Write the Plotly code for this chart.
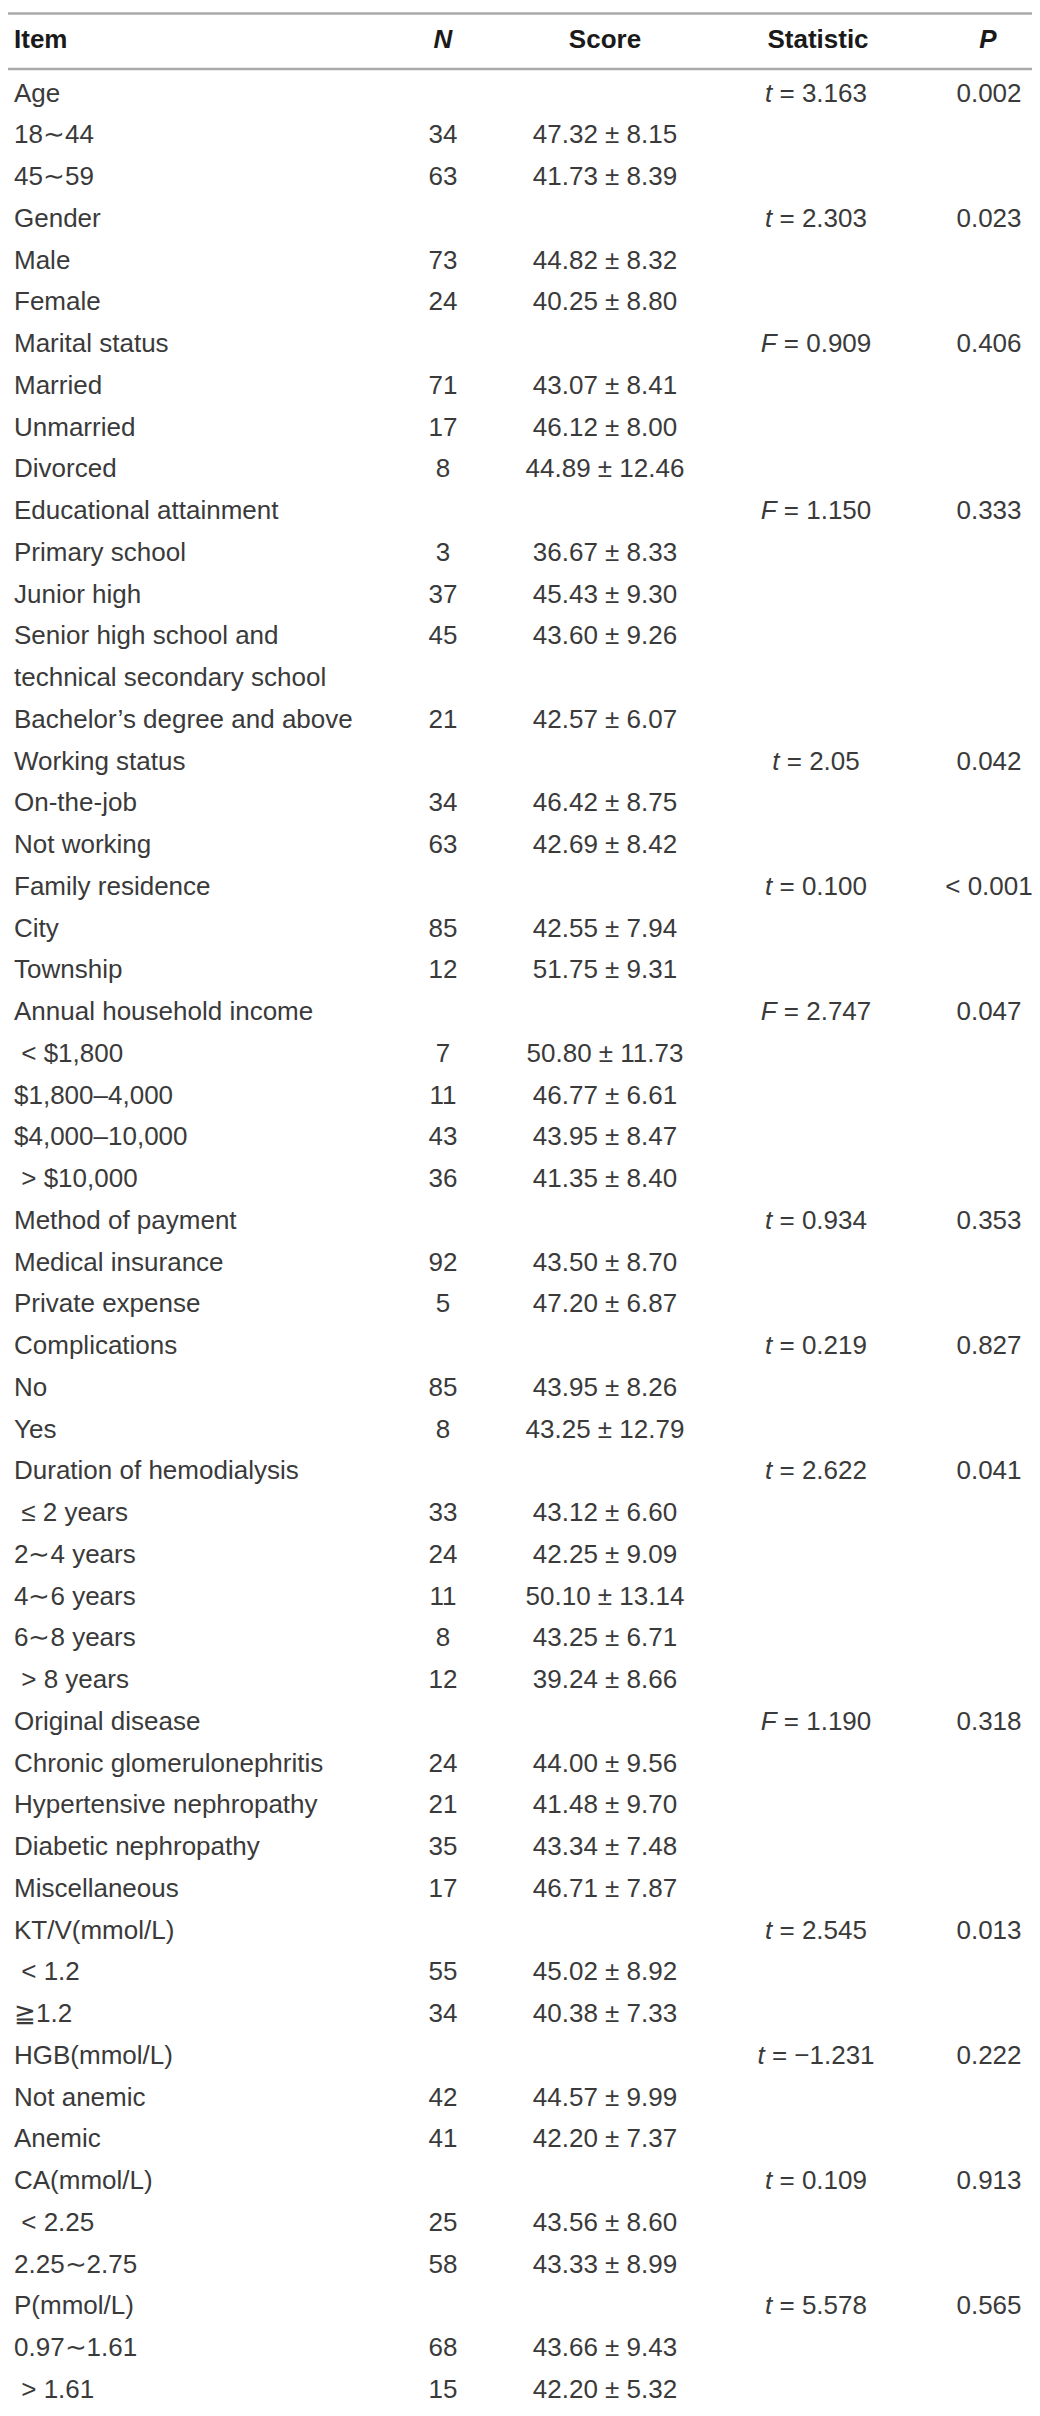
"""
Score by general characteristics table, rebuilt as a Plotly figure.
"""

import plotly.graph_objects as go

HEADERS = ["Item", "<i>N</i>", "Score", "Statistic", "<i>P</i>"]

ITEMS = [
    "Age", "18∼44", "45∼59",
    "Gender", "Male", "Female",
    "Marital status", "Married", "Unmarried", "Divorced",
    "Educational attainment", "Primary school", "Junior high",
    "Senior high school and<br>technical secondary school",
    "Bachelor’s degree and above",
    "Working status", "On-the-job", "Not working",
    "Family residence", "City", "Township",
    "Annual household income", " < $1,800", "$1,800–4,000", "$4,000–10,000", " > $10,000",
    "Method of payment", "Medical insurance", "Private expense",
    "Complications", "No", "Yes",
    "Duration of hemodialysis", " ≤ 2 years", "2∼4 years", "4∼6 years", "6∼8 years", " > 8 years",
    "Original disease", "Chronic glomerulonephritis", "Hypertensive nephropathy",
    "Diabetic nephropathy", "Miscellaneous",
    "KT/V(mmol/L)", " < 1.2", "≧1.2",
    "HGB(mmol/L)", "Not anemic", "Anemic",
    "CA(mmol/L)", " < 2.25", "2.25∼2.75",
    "P(mmol/L)", "0.97∼1.61", " > 1.61",
]

N_VALUES = [
    "", "34", "63",
    "", "73", "24",
    "", "71", "17", "8",
    "", "3", "37", "45", "21",
    "", "34", "63",
    "", "85", "12",
    "", "7", "11", "43", "36",
    "", "92", "5",
    "", "85", "8",
    "", "33", "24", "11", "8", "12",
    "", "24", "21", "35", "17",
    "", "55", "34",
    "", "42", "41",
    "", "25", "58",
    "", "68", "15",
]

SCORES = [
    "", "47.32 ± 8.15", "41.73 ± 8.39",
    "", "44.82 ± 8.32", "40.25 ± 8.80",
    "", "43.07 ± 8.41", "46.12 ± 8.00", "44.89 ± 12.46",
    "", "36.67 ± 8.33", "45.43 ± 9.30", "43.60 ± 9.26", "42.57 ± 6.07",
    "", "46.42 ± 8.75", "42.69 ± 8.42",
    "", "42.55 ± 7.94", "51.75 ± 9.31",
    "", "50.80 ± 11.73", "46.77 ± 6.61", "43.95 ± 8.47", "41.35 ± 8.40",
    "", "43.50 ± 8.70", "47.20 ± 6.87",
    "", "43.95 ± 8.26", "43.25 ± 12.79",
    "", "43.12 ± 6.60", "42.25 ± 9.09", "50.10 ± 13.14", "43.25 ± 6.71", "39.24 ± 8.66",
    "", "44.00 ± 9.56", "41.48 ± 9.70", "43.34 ± 7.48", "46.71 ± 7.87",
    "", "45.02 ± 8.92", "40.38 ± 7.33",
    "", "44.57 ± 9.99", "42.20 ± 7.37",
    "", "43.56 ± 8.60", "43.33 ± 8.99",
    "", "43.66 ± 9.43", "42.20 ± 5.32",
]

STATISTICS = {
    "Age": "<i>t</i> = 3.163",
    "Gender": "<i>t</i> = 2.303",
    "Marital status": "<i>F</i> = 0.909",
    "Educational attainment": "<i>F</i> = 1.150",
    "Working status": "<i>t</i> = 2.05",
    "Family residence": "<i>t</i> = 0.100",
    "Annual household income": "<i>F</i> = 2.747",
    "Method of payment": "<i>t</i> = 0.934",
    "Complications": "<i>t</i> = 0.219",
    "Duration of hemodialysis": "<i>t</i> = 2.622",
    "Original disease": "<i>F</i> = 1.190",
    "KT/V(mmol/L)": "<i>t</i> = 2.545",
    "HGB(mmol/L)": "<i>t</i> = −1.231",
    "CA(mmol/L)": "<i>t</i> = 0.109",
    "P(mmol/L)": "<i>t</i> = 5.578",
}

P_VALUES = {
    "Age": "0.002",
    "Gender": "0.023",
    "Marital status": "0.406",
    "Educational attainment": "0.333",
    "Working status": "0.042",
    "Family residence": "< 0.001",
    "Annual household income": "0.047",
    "Method of payment": "0.353",
    "Complications": "0.827",
    "Duration of hemodialysis": "0.041",
    "Original disease": "0.318",
    "KT/V(mmol/L)": "0.013",
    "HGB(mmol/L)": "0.222",
    "CA(mmol/L)": "0.913",
    "P(mmol/L)": "0.565",
}

# layout: page pixels across, row slots down
WIDTH, HEIGHT = 1040, 2416
ROW_PX = 41.75
FIRST_ROW_PX = 87
COL_X = [6, 435, 597, 808, 981]
HEADER_X = [6, 435, 597, 810, 980]
FONT = "Liberation Sans, Arial, Helvetica, sans-serif"
TEXT_COLOR = "#3a3a3a"
RULE_COLOR = "#aaaaaa"


def px_to_slot(px):
    return (px - FIRST_ROW_PX) / ROW_PX


# expand the labels into line slots (one label wraps onto two lines)
item_text, item_y = [], []
n_y, score_y, stat_text, stat_y, p_text = [], [], [], [], []
slot = 0
for item, n, score in zip(ITEMS, N_VALUES, SCORES):
    lines = item.split("<br>")
    for k, line in enumerate(lines):
        item_text.append(line)
        item_y.append(slot + k)
    n_y.append(slot)
    score_y.append(slot)
    if item in STATISTICS:
        stat_text.append(STATISTICS[item])
        p_text.append(P_VALUES[item])
        stat_y.append(slot)
    slot += len(lines)

body_font = dict(family=FONT, size=26, color=TEXT_COLOR)


def text_column(x, y, text, position):
    return go.Scatter(
        x=[x] * len(y), y=y, text=text,
        mode="text", textposition=position, textfont=body_font,
        cliponaxis=False, hoverinfo="skip",
    )


fig = go.Figure()
fig.add_trace(text_column(COL_X[0], item_y, item_text, "middle right"))
fig.add_trace(text_column(COL_X[1], n_y, N_VALUES, "middle center"))
fig.add_trace(text_column(COL_X[2], score_y, SCORES, "middle center"))
fig.add_trace(text_column(COL_X[3], stat_y, stat_text, "middle center"))
fig.add_trace(text_column(COL_X[4], stat_y, p_text, "middle center"))

# header row
header_y = px_to_slot(33)
fig.add_trace(go.Scatter(
    x=HEADER_X, y=[header_y] * len(HEADERS),
    text=[f"<b>{h}</b>" for h in HEADERS],
    mode="text",
    textposition=["middle right"] + ["middle center"] * 4,
    textfont=dict(family=FONT, size=26, color="#1a1a1a"),
    cliponaxis=False, hoverinfo="skip",
))

# horizontal rules
for rule_px in (5.5, 61, 2413):
    ry = px_to_slot(rule_px)
    fig.add_shape(type="line", xref="x", yref="y", x0=0, x1=WIDTH, y0=ry, y1=ry,
                  line=dict(color=RULE_COLOR, width=2.5))

y_top = px_to_slot(0)
y_bottom = px_to_slot(HEIGHT)
fig.update_layout(
    width=WIDTH,
    height=HEIGHT,
    margin=dict(l=0, r=0, t=0, b=0),
    paper_bgcolor="white",
    plot_bgcolor="white",
    showlegend=False,
    xaxis=dict(range=[0, WIDTH], visible=False, fixedrange=True),
    yaxis=dict(range=[y_bottom, y_top], visible=False, fixedrange=True),
)

fig.write_html("out.html")
